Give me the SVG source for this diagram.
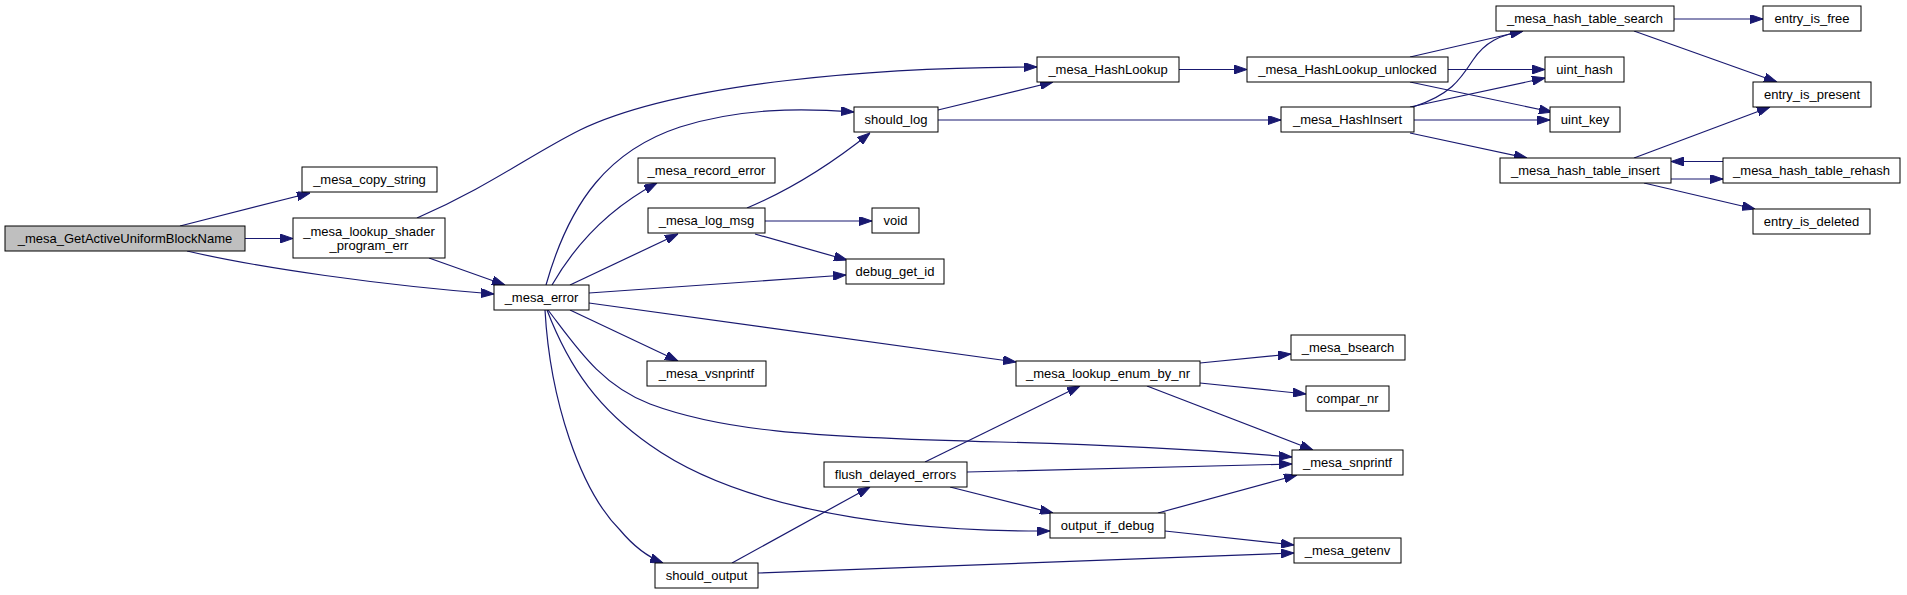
<svg xmlns="http://www.w3.org/2000/svg" width="1907" height="595" viewBox="0 0 1907 595">
<style>
.n rect{fill:#fff;stroke:#000;stroke-width:1}
.n.root rect{fill:#bfbfbf}
.n text{font-family:"Liberation Sans",Arial,sans-serif;font-size:13px;fill:#000;text-anchor:middle}
.e path{fill:none;stroke:#191970;stroke-width:1.2;marker-end:url(#ah)}
</style>
<defs>
<marker id="ah" viewBox="0 0 13 9" markerWidth="13" markerHeight="9" refX="13" refY="4.5" orient="auto" markerUnits="userSpaceOnUse">
<path d="M0,0 L13,4.5 L0,9 z" fill="#191970" stroke="#191970" stroke-width="1"/>
</marker>
</defs>
<rect width="1907" height="595" fill="#fff"/>
<g id="edges" class="e">
<path d="M180,226 L310,193"/>
<path d="M245,238.5 L293,238.5"/>
<path d="M187,251 C260,268 380,285 494,294"/>
<path d="M429,258 L505,285"/>
<path d="M417,218 C490,186 530,155 580,130 C680,82 880,67 1037,67"/>
<path d="M546,285 C570,200 610,150 680,127 C740,108 800,108 854,112"/>
<path d="M552,285 C575,245 610,208 657,183"/>
<path d="M570,285 L678,234"/>
<path d="M589,293 L846,275"/>
<path d="M570,310 L678,361"/>
<path d="M589,303 L1016,362"/>
<path d="M548,310 C575,345 600,385 650,404 C720,430 800,437 1000,442 C1150,446 1230,452 1292,457"/>
<path d="M547,310 C570,370 600,410 650,445 C720,495 850,532 1050,531"/>
<path d="M545,310 C550,400 580,490 620,530 C635,548 648,557 663,563"/>
<path d="M747,208 C790,190 830,165 870,133"/>
<path d="M765,221 L872,221"/>
<path d="M755,234 L847,260"/>
<path d="M938,110 L1053,82"/>
<path d="M938,120 L1281,120"/>
<path d="M1179,69.5 L1247,69.5"/>
<path d="M1410,57 L1523,31"/>
<path d="M1448,69.5 L1545,69.5"/>
<path d="M1410,82 L1552,112"/>
<path d="M1413,107 C1450,95 1460,80 1473,60 C1485,42 1500,35 1523,31"/>
<path d="M1410,107 L1545,78"/>
<path d="M1414,120 L1550,120"/>
<path d="M1410,133 L1527,158"/>
<path d="M1674,19 L1763,19"/>
<path d="M1634,31 L1777,82"/>
<path d="M1634,158 L1770,107"/>
<path d="M1671,179 L1723,179"/>
<path d="M1723,161.5 L1671,161.5"/>
<path d="M1644,183 L1755,209"/>
<path d="M1200,363 L1291,354"/>
<path d="M1200,383 L1306,394"/>
<path d="M1147,386 L1313,450"/>
<path d="M925,462 L1080,386"/>
<path d="M967,472 L1292,464"/>
<path d="M950,487 L1053,513"/>
<path d="M1158,513 L1297,475"/>
<path d="M1165,531 L1294,545"/>
<path d="M732,563 L870,487"/>
<path d="M758,573 L1294,553"/>
</g>
<g id="n0" class="n root"><rect x="5" y="226" width="240" height="25"/><text x="125" y="243">_mesa_GetActiveUniformBlockName</text></g>
<g id="n1" class="n"><rect x="302" y="167" width="135" height="25"/><text x="369.5" y="184">_mesa_copy_string</text></g>
<g id="n2" class="n"><rect x="293" y="218" width="152" height="40"/><text x="369" y="236">_mesa_lookup_shader</text><text x="369" y="250">_program_err</text></g>
<g id="n3" class="n"><rect x="494" y="285" width="95" height="25"/><text x="541.5" y="302">_mesa_error</text></g>
<g id="n4" class="n"><rect x="1037" y="57" width="142" height="25"/><text x="1108" y="74">_mesa_HashLookup</text></g>
<g id="n5" class="n"><rect x="854" y="107" width="84" height="25"/><text x="896" y="124">should_log</text></g>
<g id="n6" class="n"><rect x="638" y="158" width="137" height="25"/><text x="706.5" y="175">_mesa_record_error</text></g>
<g id="n7" class="n"><rect x="648" y="208" width="117" height="25"/><text x="706.5" y="225">_mesa_log_msg</text></g>
<g id="n8" class="n"><rect x="872" y="208" width="47" height="25"/><text x="895.5" y="225">void</text></g>
<g id="n9" class="n"><rect x="846" y="259" width="98" height="25"/><text x="895" y="276">debug_get_id</text></g>
<g id="n10" class="n"><rect x="647" y="361" width="119" height="25"/><text x="706.5" y="378">_mesa_vsnprintf</text></g>
<g id="n11" class="n"><rect x="1016" y="361" width="184" height="25"/><text x="1108" y="378">_mesa_lookup_enum_by_nr</text></g>
<g id="n12" class="n"><rect x="1292" y="450" width="111" height="25"/><text x="1347.5" y="467">_mesa_snprintf</text></g>
<g id="n13" class="n"><rect x="1050" y="513" width="115" height="25"/><text x="1107.5" y="530">output_if_debug</text></g>
<g id="n14" class="n"><rect x="655" y="563" width="103" height="25"/><text x="706.5" y="580">should_output</text></g>
<g id="n15" class="n"><rect x="824" y="462" width="143" height="25"/><text x="895.5" y="479">flush_delayed_errors</text></g>
<g id="n16" class="n"><rect x="1294" y="538" width="107" height="25"/><text x="1347.5" y="555">_mesa_getenv</text></g>
<g id="n17" class="n"><rect x="1291" y="335" width="114" height="25"/><text x="1348" y="352">_mesa_bsearch</text></g>
<g id="n18" class="n"><rect x="1306" y="386" width="83" height="25"/><text x="1347.5" y="403">compar_nr</text></g>
<g id="n19" class="n"><rect x="1247" y="57" width="201" height="25"/><text x="1347.5" y="74">_mesa_HashLookup_unlocked</text></g>
<g id="n20" class="n"><rect x="1281" y="107" width="133" height="25"/><text x="1347.5" y="124">_mesa_HashInsert</text></g>
<g id="n21" class="n"><rect x="1496" y="6" width="178" height="25"/><text x="1585" y="23">_mesa_hash_table_search</text></g>
<g id="n22" class="n"><rect x="1545" y="57" width="79" height="25"/><text x="1584.5" y="74">uint_hash</text></g>
<g id="n23" class="n"><rect x="1550" y="107" width="70" height="25"/><text x="1585" y="124">uint_key</text></g>
<g id="n24" class="n"><rect x="1500" y="158" width="171" height="25"/><text x="1585.5" y="175">_mesa_hash_table_insert</text></g>
<g id="n25" class="n"><rect x="1763" y="6" width="98" height="25"/><text x="1812" y="23">entry_is_free</text></g>
<g id="n26" class="n"><rect x="1753" y="82" width="118" height="25"/><text x="1812" y="99">entry_is_present</text></g>
<g id="n27" class="n"><rect x="1723" y="158" width="177" height="25"/><text x="1811.5" y="175">_mesa_hash_table_rehash</text></g>
<g id="n28" class="n"><rect x="1753" y="209" width="117" height="25"/><text x="1811.5" y="226">entry_is_deleted</text></g>
</svg>
